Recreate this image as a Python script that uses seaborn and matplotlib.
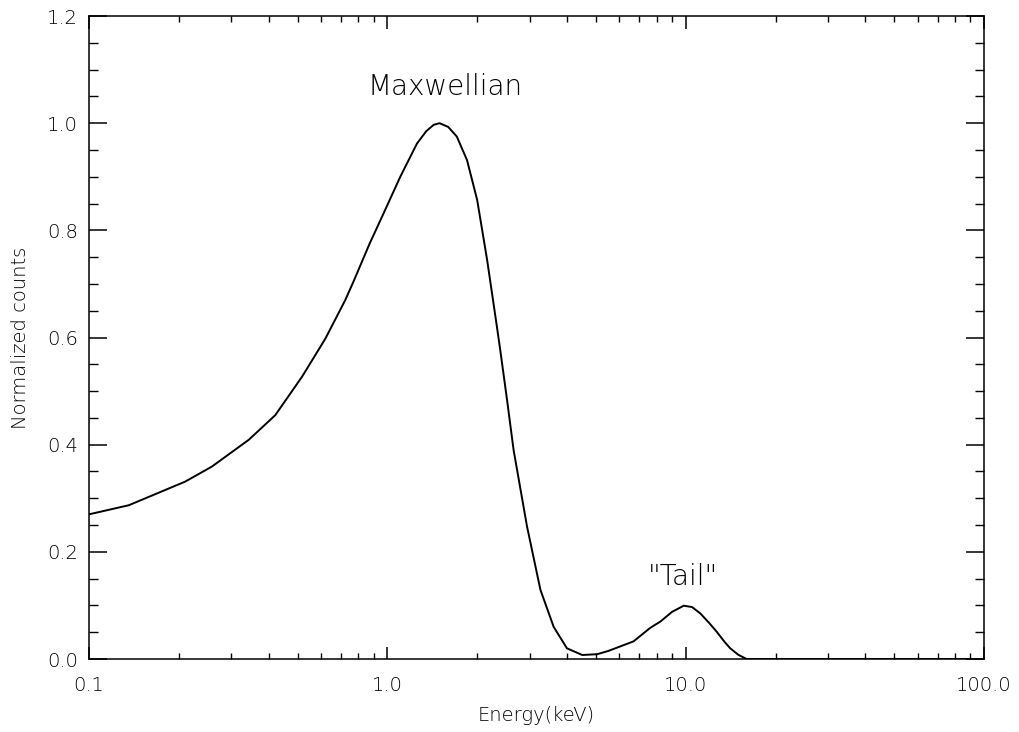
import matplotlib
matplotlib.use("Agg")
import matplotlib.pyplot as plt
import seaborn as sns
import pandas as pd
from matplotlib.ticker import FixedLocator, FixedFormatter, MultipleLocator, LogLocator, NullFormatter

# ---- data ----
energy_kev = [0.1, 0.136, 0.21, 0.258, 0.343, 0.421, 0.518, 0.60, 0.62, 0.723, 0.771,
              0.872, 0.972, 1.105, 1.257, 1.35, 1.43, 1.497, 1.6, 1.71, 1.85, 2.0,
              2.16, 2.33, 2.39, 2.52, 2.65, 2.94, 3.26, 3.61, 4.0, 4.5, 5.05, 5.5,
              6.2, 6.69, 7.6, 8.23, 9.0, 9.85, 10.5, 11.2, 12.0, 12.7, 13.5, 14.1,
              15.0, 16.0, 20.0, 50.0, 100.0]
normalized_counts = [0.270, 0.287, 0.331, 0.359, 0.409, 0.455, 0.527, 0.585, 0.598, 0.670, 0.705,
                     0.775, 0.832, 0.900, 0.962, 0.985, 0.997, 1.000, 0.993, 0.975, 0.931, 0.857,
                     0.745, 0.620, 0.577, 0.483, 0.390, 0.247, 0.129, 0.060, 0.020, 0.0075, 0.009, 0.015,
                     0.026, 0.033, 0.058, 0.070, 0.088, 0.0995, 0.097, 0.085, 0.067, 0.051, 0.032, 0.020,
                     0.008, 0.0, 0.0, 0.0, 0.0]

x_ticks = [0.1, 1.0, 10.0, 100.0]
x_tick_labels = ["0.1", "1.0", "10.0", "100.0"]
y_ticks = [0.0, 0.2, 0.4, 0.6, 0.8, 1.0, 1.2]
y_tick_labels = ["0.0", "0.2", "0.4", "0.6", "0.8", "1.0", "1.2"]

annotations = ["Maxwellian", '"Tail"']
annotation_x = [1.56, 9.8]
annotation_y = [1.067, 0.153]

df = pd.DataFrame({"Energy": energy_kev, "Counts": normalized_counts})

sns.set_theme(style="ticks")
plt.rcParams["font.family"] = ["DejaVu Sans"]
plt.rcParams["text.color"] = "black"
plt.rcParams["axes.labelcolor"] = "black"
plt.rcParams["xtick.color"] = "black"
plt.rcParams["ytick.color"] = "black"
plt.rcParams["axes.edgecolor"] = "black"

fig = plt.figure(figsize=(10.19, 7.32), dpi=100)
ax = fig.add_axes([0.0873, 0.0997, 0.8784, 0.8784])

sns.lineplot(data=df, x="Energy", y="Counts", ax=ax, color="black",
             linewidth=1.4, sort=False, estimator=None)

ax.set_xscale("log")
ax.set_xlim(0.1, 100)
ax.set_ylim(0, 1.2)

ax.xaxis.set_major_locator(FixedLocator(x_ticks))
ax.xaxis.set_major_formatter(FixedFormatter(x_tick_labels))
ax.xaxis.set_minor_locator(LogLocator(base=10, subs=range(2, 10)))
ax.xaxis.set_minor_formatter(NullFormatter())
ax.yaxis.set_major_locator(FixedLocator(y_ticks))
ax.yaxis.set_major_formatter(FixedFormatter(y_tick_labels))
ax.yaxis.set_minor_locator(MultipleLocator(0.05))

for s in ax.spines.values():
    s.set_visible(True)
    s.set_linewidth(1.1)
    s.set_color("black")

ax.tick_params(axis="x", which="major", direction="in", length=9, width=1.1,
               top=True, bottom=True, labelsize=14, pad=12, colors="black")
ax.tick_params(axis="x", which="minor", direction="in", length=4.5, width=1.0,
               top=True, bottom=True, colors="black")
ax.tick_params(axis="y", which="major", direction="in", length=13, width=1.1,
               left=True, right=True, labelsize=14, pad=8, colors="black")
ax.tick_params(axis="y", which="minor", direction="in", length=6.5, width=1.0,
               left=True, right=True, colors="black")
for lab in ax.get_xticklabels() + ax.get_yticklabels():
    lab.set_fontweight("light")
    lab.set_color("black")

ax.set_xlabel("Energy(keV)", fontsize=14, fontweight="light", labelpad=8, color="black")
ax.set_ylabel("Normalized counts", fontsize=14, fontweight="light", labelpad=12, color="black")

for txt, xv, yv in zip(annotations, annotation_x, annotation_y):
    ax.text(xv, yv, txt, ha="center", va="center", fontsize=20, fontweight="light", color="black")

ax.grid(False)
fig.savefig("out.png", dpi=100, facecolor="white")
